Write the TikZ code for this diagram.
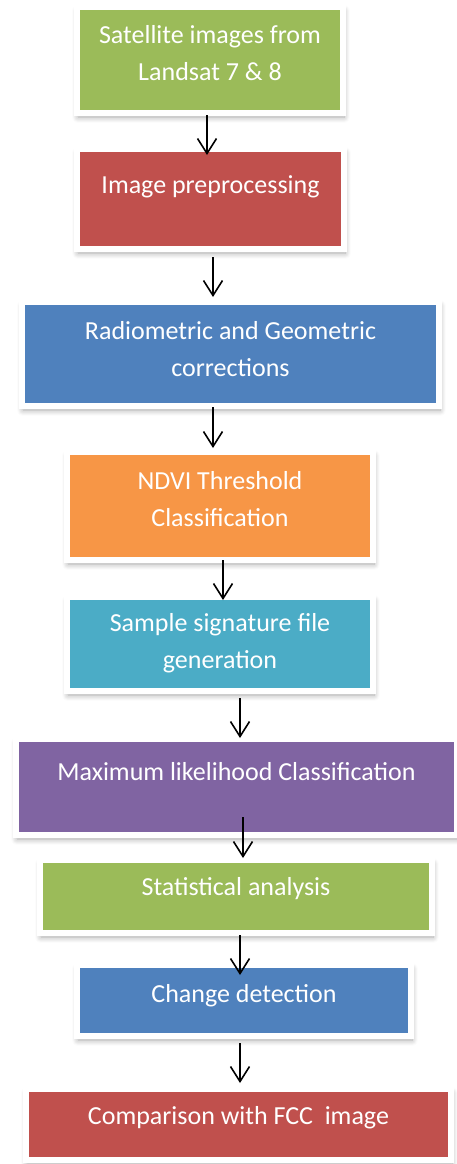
\documentclass[tikz,border=0pt]{standalone}
\usepackage{fontspec}
\setmainfont{Carlito}
\usetikzlibrary{arrows.meta,shadows.blur}

\definecolor{offgreen}{HTML}{9BBB59}
\definecolor{offred}{HTML}{C0504D}
\definecolor{offblue}{HTML}{4F81BD}
\definecolor{offorange}{HTML}{F79646}
\definecolor{offaqua}{HTML}{4BACC6}
\definecolor{offpurple}{HTML}{8064A2}

\tikzset{
  box/.style={rectangle, draw=white, line width=6pt, inner sep=0pt, outer sep=0pt,
    blur shadow={shadow xshift=1pt, shadow yshift=-4pt, shadow blur radius=6pt,
      shadow blur steps=8, shadow opacity=35}},
  boxtext/.style={anchor=north, inner sep=0pt, align=center, text=white,
    font=\fontsize{26}{37}\selectfont},
  arr/.style={-{Straight Barb[length=15pt,width=19pt]}, line width=1.6pt, black}
}

\begin{document}
\begin{tikzpicture}[x=1pt, y=-1pt]
  \useasboundingbox (0,0) rectangle (457,1164);

  % boxes
  \node[box, fill=offgreen,  minimum width=266pt, minimum height=106pt] (b1) at (210,60) {};
  \node[box, fill=offred,    minimum width=267pt, minimum height=100pt] (b2) at (210.5,199) {};
  \node[box, fill=offblue,   minimum width=417pt, minimum height=104pt] (b3) at (230.5,354) {};
  \node[box, fill=offorange, minimum width=306pt, minimum height=108pt] (b4) at (220,506) {};
  \node[box, fill=offaqua,   minimum width=306pt, minimum height=94pt]  (b5) at (220,644) {};
  \node[box, fill=offpurple, minimum width=441pt, minimum height=96pt]  (b6) at (236.5,787) {};
  \node[box, fill=offgreen,  minimum width=392pt, minimum height=73pt]  (b7) at (236,896.5) {};
  \node[box, fill=offblue,   minimum width=334pt, minimum height=71pt]  (b8) at (244,1000.5) {};
  \node[box, fill=offred,    minimum width=425pt, minimum height=71pt]  (b9) at (238.5,1124.5) {};

  % texts
  \node[boxtext] (t1) at ([yshift=-18pt]b1.north) {Satellite images from\\Landsat 7 \& 8};
  \node[boxtext] (t2) at ([yshift=-26pt]b2.north) {Image preprocessing};
  \node[boxtext] (t3) at ([yshift=-19pt]b3.north) {Radiometric and Geometric\\corrections};
  \node[boxtext] (t4) at ([yshift=-19pt]b4.north) {NDVI Threshold\\Classification};
  \node[boxtext] (t5) at ([yshift=-16pt]b5.north) {Sample signature file\\generation};
  \node[boxtext] (t6) at ([yshift=-23pt]b6.north) {Maximum likelihood Classification};
  \node[boxtext] (t7) at ([yshift=-17pt]b7.north) {Statistical analysis};
  \node[boxtext] (t8) at ([yshift=-19pt]b8.north) {Change detection};
  \node[boxtext] (t9) at ([yshift=-17pt]b9.north) {Comparison with FCC\ \ image};

  % arrows
  \draw[arr] ([xshift=-3pt,yshift=-2pt]b1.south) -- ([xshift=-3.5pt,yshift=-6pt]b2.north);
  \draw[arr] ([xshift=2.5pt,yshift=-8pt]b2.south) -- ([xshift=-17.5pt,yshift=5pt]b3.north);
  \draw[arr] ([xshift=-17.5pt,yshift=-1pt]b3.south) -- ([xshift=-7pt,yshift=4pt]b4.north);
  \draw[arr] ([xshift=3pt]b4.south) -- ([xshift=3pt,yshift=-3pt]b5.north);
  \draw[arr] ([xshift=20pt,yshift=-7pt]b5.south) -- ([xshift=3.5pt,yshift=1pt]b6.north);
  \draw[arr] ([xshift=6.5pt,yshift=18pt]b6.south) -- ([xshift=7pt,yshift=2pt]b7.north);
  \draw[arr] ([xshift=4pt,yshift=-2pt]b7.south) -- ([xshift=-4pt,yshift=-10pt]b8.north);
  \draw[arr] ([xshift=-4pt,yshift=-7pt]b8.south) -- ([xshift=1.5pt,yshift=6pt]b9.north);
\end{tikzpicture}
\end{document}
